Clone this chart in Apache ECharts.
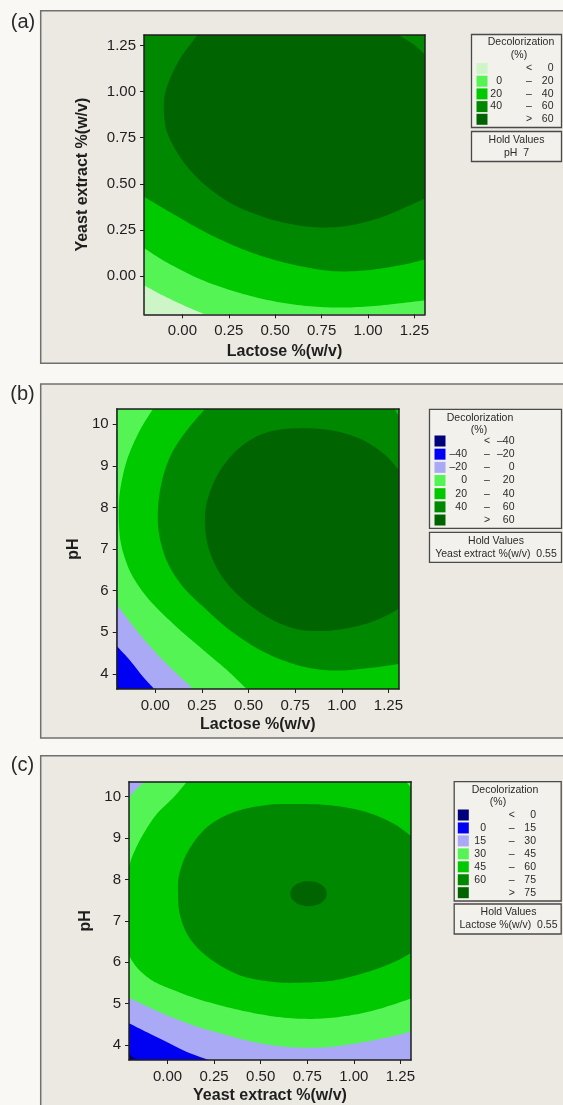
<!DOCTYPE html>
<html><head><meta charset="utf-8">
<script src="https://cdn.jsdelivr.net/npm/echarts@6/dist/echarts.min.js"></script>
<style>html,body{margin:0;padding:0;background:#f9f8f5;}#c{width:563px;height:1105px;}</style>
</head><body><div id="c"></div>
<script>
// ---------- axis limits & ticks ----------
const X_MIN = -0.2069, X_MAX = 1.3069;        // lactose / yeast extract %(w/v)
const YE_MIN = -0.2069, YE_MAX = 1.3069;      // yeast extract (panel a)
const PH_MIN = 3.6364, PH_MAX = 10.3636;      // pH
const X_TICKS = [0, 0.25, 0.5, 0.75, 1.0, 1.25];
const YE_TICKS = [0, 0.25, 0.5, 0.75, 1.0, 1.25];
const PH_TICKS = [4, 5, 6, 7, 8, 9, 10];

// ---------- colours (legend order, low -> high) ----------
const A_COLORS = ['#cdf5c8', '#55f455', '#00c900', '#008800', '#006400'];
const B_COLORS = ['#00007c', '#0000f2', '#a9a9f6', '#55f455', '#00c900', '#008800', '#006400'];
const C_COLORS = ['#00007c', '#0000f2', '#a9a9f6', '#55f455', '#00c900', '#008800', '#006400'];

// ---------- legend texts ----------
const A_LEG_LOW  = ['', '0', '20', '40', ''];
const A_LEG_SYM  = ['<', '–', '–', '–', '>'];
const A_LEG_HIGH = ['0', '20', '40', '60', '60'];
const B_LEG_LOW  = ['', '–40', '–20', '0', '20', '40', ''];
const B_LEG_SYM  = ['<', '–', '–', '–', '–', '–', '>'];
const B_LEG_HIGH = ['–40', '–20', '0', '20', '40', '60', '60'];
const C_LEG_LOW  = ['', '0', '15', '30', '45', '60', ''];
const C_LEG_SYM  = ['<', '–', '–', '–', '–', '–', '>'];
const C_LEG_HIGH = ['0', '15', '30', '45', '60', '75', '75'];
const A_HOLD = ['Hold Values', 'pH  7'];
const B_HOLD = ['Hold Values', 'Yeast extract %(w/v)  0.55'];
const C_HOLD = ['Hold Values', 'Lactose %(w/v)  0.55'];

// ---------- contour lines (data coordinates) ----------
// (a) x = Lactose, y = Yeast extract
const A_C0  = [[X_MIN,-0.05],[-0.116,-0.099],[-0.027,-0.143],[0.063,-0.183],[0.12,YE_MIN]];
const A_C20 = [[X_MIN,0.152],[-0.081,0.072],[0.099,-0.018],[0.278,-0.082],[0.457,-0.129],[0.636,-0.158],[0.815,-0.170],[0.995,-0.165],[1.174,-0.147],[X_MAX,-0.131]];
const A_C40 = [[X_MIN,0.430],[-0.081,0.355],[0.099,0.251],[0.278,0.165],[0.457,0.099],[0.636,0.054],[0.815,0.027],[0.995,0.032],[1.174,0.059],[X_MAX,0.090]];
const A_C60 = [[0.081,YE_MAX],[-0.009,1.184],[-0.072,1.058],[-0.099,0.950],[-0.090,0.807],[-0.045,0.699],[0.027,0.592],[0.134,0.484],[0.278,0.386],[0.457,0.314],[0.636,0.273],[0.780,0.264],[0.923,0.278],[1.084,0.323],[1.210,0.377],[X_MAX,0.421]];
const A_C60_CORNER = [[X_MAX,1.202],[1.246,1.255],[1.165,YE_MAX]];

// (b) x = Lactose, y = pH
const B_CM40 = [[X_MIN,3.74],[-0.199,3.69],[-0.19,PH_MIN]];
const B_CM20 = [[X_MIN,4.67],[-0.138,4.335],[-0.067,3.935],[-0.005,PH_MIN]];
const B_C0   = [[X_MIN,5.67],[-0.102,5.053],[0.005,4.495],[0.113,4.016],[0.203,PH_MIN]];
const B_C20  = [[-0.013,PH_MAX],[-0.084,9.84],[-0.147,9.202],[-0.183,8.564],[-0.196,8.0],[-0.19,7.3],[-0.165,6.809],[-0.12,6.33],[-0.031,5.771],[0.113,5.133],[0.257,4.574],[0.383,4.096],[0.49,PH_MIN]];
const B_C40  = [[0.266,PH_MAX],[0.167,9.84],[0.086,9.282],[0.036,8.644],[0.014,7.925],[0.023,7.287],[0.068,6.649],[0.149,6.09],[0.257,5.61],[0.40,5.05],[0.58,4.53],[0.778,4.19],[0.957,4.08],[1.137,4.135],[X_MAX,4.24]];
const B_C40_CORNER = [[X_MAX,10.18],[1.285,PH_MAX]];
const B_C60  = [[X_MAX,8.883],[1.227,9.282],[1.101,9.641],[0.957,9.840],[0.778,9.904],[0.598,9.801],[0.454,9.441],[0.347,8.883],[0.284,8.245],[0.266,7.686],[0.284,7.048],[0.347,6.409],[0.454,5.851],[0.598,5.372],[0.742,5.093],[0.867,5.029],[0.993,5.069],[1.137,5.213],[1.245,5.412],[X_MAX,5.572]];

// (c) x = Yeast extract, y = pH
const C_C0  = [[X_MIN,3.808],[-0.19,3.72],[-0.157,PH_MIN]];
const C_C15 = [[X_MIN,4.525],[-0.12,4.327],[-0.012,4.088],[0.095,3.849],[0.22,PH_MIN]];
const C_C30 = [[X_MIN,5.14],[-0.048,4.805],[0.131,4.485],[0.31,4.246],[0.489,4.047],[0.668,3.944],[0.847,3.944],[1.026,4.047],[1.205,4.207],[X_MAX,4.327]];
const C_C30_CORNER = [[-0.125,PH_MAX],[-0.175,10.15],[X_MIN,9.969]];
const C_C45_UPPER = [[0.104,PH_MAX],[0.032,9.984],[-0.057,9.586],[-0.129,9.108],[-0.183,8.63],[X_MIN,8.31]];
const C_C45_LOWER = [[X_MIN,6.158],[-0.16,5.85],[-0.08,5.55],[0.03,5.33],[0.17,5.1],[0.36,4.87],[0.57,4.69],[0.757,4.63],[0.937,4.686],[1.115,4.843],[X_MAX,5.123]];
const C_C45_CORNER = [[X_MAX,10.22],[1.282,PH_MAX]];
const C_C60 = [[X_MAX,9.05],[1.214,9.347],[1.071,9.625],[0.892,9.785],[0.713,9.825],[0.534,9.801],[0.354,9.625],[0.212,9.266],[0.113,8.709],[0.064,8.152],[0.056,7.674],[0.068,7.115],[0.122,6.557],[0.229,6.079],[0.39,5.68],[0.569,5.522],[0.713,5.506],[0.892,5.56],[1.071,5.761],[1.214,6.0],[X_MAX,6.22]];
const C_C75 = [[0.855,7.657],[0.842,7.809],[0.806,7.919],[0.757,7.96],[0.708,7.919],[0.672,7.809],[0.659,7.657],[0.672,7.505],[0.708,7.395],[0.757,7.354],[0.806,7.395],[0.842,7.505]];

// ---------- region assembly (superlevel sets, painted low -> high) ----------
const Cv = (pts, closed) => ({ smooth: true, pts: pts, closed: !!closed });
const Ln = (pts) => ({ smooth: false, pts: pts });
const rectParts = (x0, x1, y0, y1) => [Ln([[x0,y0],[x1,y0],[x1,y1],[x0,y1]])];

const A_REGIONS = [
  { color: A_COLORS[0], parts: rectParts(X_MIN, X_MAX, YE_MIN, YE_MAX) },
  { color: A_COLORS[1], parts: [Cv(A_C0), Ln([[X_MAX,YE_MIN],[X_MAX,YE_MAX],[X_MIN,YE_MAX]])] },
  { color: A_COLORS[2], parts: [Cv(A_C20), Ln([[X_MAX,YE_MAX],[X_MIN,YE_MAX]])] },
  { color: A_COLORS[3], parts: [Cv(A_C40), Ln([[X_MAX,YE_MAX],[X_MIN,YE_MAX]])] },
  { color: A_COLORS[4], parts: [Cv(A_C60), Cv(A_C60_CORNER)] }
];
const B_CLOSE = Ln([[X_MAX,PH_MIN],[X_MAX,PH_MAX],[X_MIN,PH_MAX]]);
const B_REGIONS = [
  { color: B_COLORS[0], parts: rectParts(X_MIN, X_MAX, PH_MIN, PH_MAX) },
  { color: B_COLORS[1], parts: [Cv(B_CM40), B_CLOSE] },
  { color: B_COLORS[2], parts: [Cv(B_CM20), B_CLOSE] },
  { color: B_COLORS[3], parts: [Cv(B_C0), B_CLOSE] },
  { color: B_COLORS[4], parts: [Cv(B_C20), Ln([[X_MAX,PH_MIN],[X_MAX,PH_MAX]])] },
  { color: B_COLORS[5], parts: [Cv(B_C40), Cv(B_C40_CORNER)] },
  { color: B_COLORS[6], parts: [Cv(B_C60)] }
];
const C_REGIONS = [
  { color: C_COLORS[0], parts: rectParts(X_MIN, X_MAX, PH_MIN, PH_MAX) },
  { color: C_COLORS[1], parts: [Cv(C_C0), B_CLOSE] },
  { color: C_COLORS[2], parts: [Cv(C_C15), B_CLOSE] },
  { color: C_COLORS[3], parts: [Cv(C_C30), Ln([[X_MAX,PH_MAX]]), Cv(C_C30_CORNER)] },
  { color: C_COLORS[4], parts: [Cv(C_C45_UPPER), Cv(C_C45_LOWER), Cv(C_C45_CORNER)] },
  { color: C_COLORS[5], parts: [Cv(C_C60)] },
  { color: C_COLORS[6], parts: [Cv(C_C75, true)] }
];

// ---------- helpers ----------
function sampleCurve(p, closed) {
  const n = p.length, out = [];
  if (n < 3 && !closed) return p.slice();
  const g = i => closed ? p[(i + n) % n] : p[Math.max(0, Math.min(n - 1, i))];
  const segs = closed ? n : n - 1, K = 10;
  for (let i = 0; i < segs; i++) {
    const p0 = g(i - 1), p1 = g(i), p2 = g(i + 1), p3 = g(i + 2);
    for (let k = 0; k < K; k++) {
      const t = k / K, t2 = t * t, t3 = t2 * t;
      const f = j => 0.5 * (2 * p1[j] + (-p0[j] + p2[j]) * t + (2 * p0[j] - 5 * p1[j] + 4 * p2[j] - p3[j]) * t2 + (-p0[j] + 3 * p1[j] - 3 * p2[j] + p3[j]) * t3);
      out.push([f(0), f(1)]);
    }
  }
  if (!closed) out.push(p[n - 1]);
  return out;
}
function contourSeries(regions, gi) {
  return {
    type: 'custom', coordinateSystem: 'cartesian2d', xAxisIndex: 2 * gi, yAxisIndex: 2 * gi,
    clip: true, silent: true, z: 2, animation: false,
    data: regions.map((r, i) => [i]),
    renderItem: function (params, api) {
      const r = regions[params.dataIndex];
      let pts = [];
      r.parts.forEach(part => {
        const px = part.pts.map(q => api.coord(q));
        pts = pts.concat(part.smooth ? sampleCurve(px, part.closed) : px);
      });
      return { type: 'polygon', shape: { points: pts }, style: { fill: r.color } };
    }
  };
}
const FONT = 'Liberation Sans, Arial, Helvetica, sans-serif';
const AX = '#1e1e1e';
function xAxes(gi, name, nameGap) {
  return [{
    type: 'value', gridIndex: gi, min: X_MIN, max: X_MAX, position: 'bottom', z: 5,
    axisLine: { show: true, onZero: false, lineStyle: { color: AX, width: 1.5 } },
    axisTick: { show: true, customValues: X_TICKS, length: 4, lineStyle: { color: AX, width: 1 } },
    axisLabel: { customValues: X_TICKS, formatter: v => Number(v).toFixed(2), fontSize: 15, color: AX, margin: 9, fontFamily: FONT },
    splitLine: { show: false },
    name: name, nameLocation: 'middle', nameGap: nameGap,
    nameTextStyle: { fontWeight: 'bold', fontSize: 16, color: AX, fontFamily: FONT }
  }, {
    type: 'value', gridIndex: gi, min: X_MIN, max: X_MAX, position: 'top', z: 5,
    axisLine: { show: true, onZero: false, lineStyle: { color: AX, width: 1.5 } },
    axisTick: { show: false }, axisLabel: { show: false }, splitLine: { show: false }
  }];
}
function yAxes(gi, min, max, ticks, dec, name, nameGap) {
  return [{
    type: 'value', gridIndex: gi, min: min, max: max, position: 'left', z: 5,
    axisLine: { show: true, onZero: false, lineStyle: { color: AX, width: 1.5 } },
    axisTick: { show: true, customValues: ticks, length: 4, lineStyle: { color: AX, width: 1 } },
    axisLabel: { customValues: ticks, formatter: v => Number(v).toFixed(dec), fontSize: 15, color: AX, margin: 8, fontFamily: FONT },
    splitLine: { show: false },
    name: name, nameLocation: 'middle', nameGap: nameGap,
    nameTextStyle: { fontWeight: 'bold', fontSize: 16, color: AX, fontFamily: FONT }
  }, {
    type: 'value', gridIndex: gi, min: min, max: max, position: 'right', z: 5,
    axisLine: { show: true, onZero: false, lineStyle: { color: AX, width: 1.5 } },
    axisTick: { show: false }, axisLabel: { show: false }, splitLine: { show: false }
  }];
}
function txt(x, y, s, align, size, weight) {
  return { type: 'text', x: x, y: y, z: 20,
    style: { text: s, fill: '#2a2a2a', fontSize: size || 10.5, fontFamily: FONT, fontWeight: weight || 'normal',
      align: align || 'center', verticalAlign: 'middle', textAlign: align || 'center', textVerticalAlign: 'middle' } };
}
function legend(L, colors, low, sym, high, hold) {
  const els = [];
  els.push({ type: 'rect', z: 15, shape: { x: L.x, y: L.y, width: L.w, height: L.h }, style: { fill: '#f3f1ec', stroke: '#4a4a4a', lineWidth: 1.3 } });
  els.push({ type: 'rect', z: 15, shape: { x: L.x, y: L.hy, width: L.w, height: L.hh }, style: { fill: '#f3f1ec', stroke: '#4a4a4a', lineWidth: 1.3 } });
  els.push(txt(L.tx, L.ty, 'Decolorization'));
  els.push(txt(L.px, L.ty + 12.5, '(%)'));
  colors.forEach((c, i) => {
    const cy = L.r0 + i * L.dy;
    els.push({ type: 'rect', z: 16, shape: { x: L.sx, y: cy - 5.5, width: 11, height: 11 }, style: { fill: c } });
    if (low[i]) els.push(txt(L.lx, cy, low[i], 'right'));
    els.push(txt(L.mx, cy, sym[i], 'center'));
    els.push(txt(L.hx, cy, high[i], 'right'));
  });
  els.push(txt(L.hcx, L.hy + 8.5, hold[0]));
  els.push(txt(L.hcx, L.hy + 21.5, hold[1]));
  return els;
}

// ---------- layout ----------
const GRIDS = [
  { left: 144, top: 35, width: 281, height: 279.3 },
  { left: 116.7, top: 409, width: 282.3, height: 280 },
  { left: 129, top: 781.7, width: 282, height: 279.3 }
];
const LEG_A = { x: 471.5, y: 34.5, w: 90, h: 93, hy: 131.5, hh: 30, tx: 521, px: 519, ty: 42.5, r0: 68.5, dy: 12.7, sx: 476.5, lx: 502, mx: 529, hx: 553.5, hcx: 516.5 };
const LEG_B = { x: 429.5, y: 409.3, w: 132, h: 119, hy: 532.3, hh: 30, tx: 480, px: 479, ty: 417.7, r0: 441, dy: 13.17, sx: 434.5, lx: 467, mx: 487, hx: 514.5, hcx: 496 };
const LEG_C = { x: 454.2, y: 781.7, w: 107, h: 119.3, hy: 904, hh: 30, tx: 505, px: 498, ty: 790, r0: 815, dy: 12.95, sx: 457.8, lx: 486, mx: 511.7, hx: 536, hcx: 508.5 };

const graphics = [
  { type: 'rect', z: 0, shape: { x: 40.7, y: 10.7, width: 600, height: 352.6 }, style: { fill: '#ece9e2', stroke: '#707070', lineWidth: 1.5 } },
  { type: 'rect', z: 0, shape: { x: 40.7, y: 384, width: 600, height: 354 }, style: { fill: '#ece9e2', stroke: '#707070', lineWidth: 1.5 } },
  { type: 'rect', z: 0, shape: { x: 40.7, y: 755.7, width: 600, height: 400 }, style: { fill: '#ece9e2', stroke: '#707070', lineWidth: 1.5 } },
  txt(23, 22, '(a)', 'center', 20),
  txt(22.5, 394, '(b)', 'center', 20),
  txt(22.5, 765, '(c)', 'center', 20)
].concat(
  legend(LEG_A, A_COLORS, A_LEG_LOW, A_LEG_SYM, A_LEG_HIGH, A_HOLD),
  legend(LEG_B, B_COLORS, B_LEG_LOW, B_LEG_SYM, B_LEG_HIGH, B_HOLD),
  legend(LEG_C, C_COLORS, C_LEG_LOW, C_LEG_SYM, C_LEG_HIGH, C_HOLD)
);

const chart = echarts.init(document.getElementById('c'), null, { renderer: 'canvas', width: 563, height: 1105 });
chart.setOption({
  backgroundColor: '#f9f8f5',
  animation: false,
  textStyle: { fontFamily: FONT },
  grid: GRIDS.map(g => Object.assign({ show: false, containLabel: false }, g)),
  xAxis: [].concat(xAxes(0, 'Lactose %(w/v)', 29), xAxes(1, 'Lactose %(w/v)', 28), xAxes(2, 'Yeast extract %(w/v)', 28)),
  yAxis: [].concat(yAxes(0, YE_MIN, YE_MAX, YE_TICKS, 2, 'Yeast extract %(w/v)', 53), yAxes(1, PH_MIN, PH_MAX, PH_TICKS, 0, 'pH', 34), yAxes(2, PH_MIN, PH_MAX, PH_TICKS, 0, 'pH', 31)),
  series: [contourSeries(A_REGIONS, 0), contourSeries(B_REGIONS, 1), contourSeries(C_REGIONS, 2)],
  graphic: { elements: graphics }
});
</script></body></html>
